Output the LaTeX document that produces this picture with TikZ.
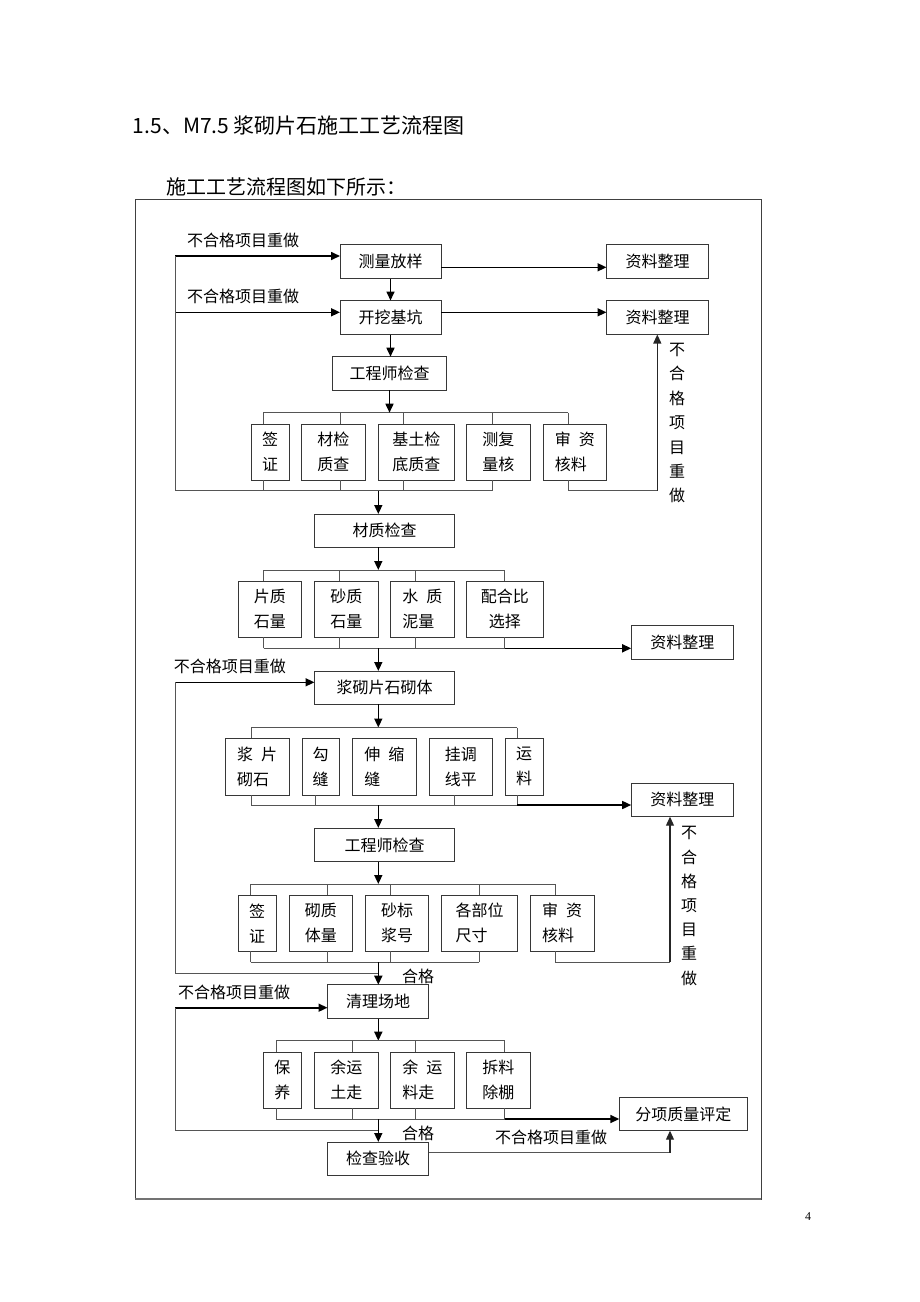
\documentclass[tikz,border=0pt]{standalone}
\usepackage{fontspec}
\setmainfont{Noto Sans CJK SC}
\newfontfamily\numfont{Liberation Serif}
\usetikzlibrary{arrows.meta}
\definecolor{boxc}{RGB}{55,55,55}
\definecolor{linec}{RGB}{85,85,85}
\newcommand\gap{\hspace{0.5em}}
\tikzset{
  box/.style={draw=boxc, line width=1pt, inner sep=0pt, outer sep=0pt, align=left,
    font=\fontsize{16}{25}\selectfont},
  thinl/.style={draw=linec, line width=1pt},
  thickl/.style={draw=black, line width=1.6pt},
  arr/.style={draw=black, line width=1.6pt, -{Triangle[length=9pt,width=8pt]}},
  arrthin/.style={draw=black!85, line width=1.1pt, -{Triangle[length=9pt,width=8pt]}},
  lbl/.style={font=\fontsize{16}{18}\selectfont, inner sep=0pt},
}
\newcommand\bx[6]{\node[box, minimum width={#4-#2}, minimum height={#5-#3}] (#1) at ({(#2+#4)/2},{(#3+#5)/2}) {#6};}
\begin{document}
\begin{tikzpicture}[x=1pt,y=-1pt]
\useasboundingbox (0,0) rectangle (920,1302);
% heading
\node[anchor=west, inner sep=0pt, font=\fontsize{21}{24}\selectfont] (title) at (132.7,125) {1.5、M7.5 浆砌片石施工工艺流程图};
\node[anchor=west, inner sep=0pt, font=\fontsize{20}{24}\selectfont] (sub) at (166.7,187) {施工工艺流程图如下所示：};
\node[inner sep=0pt, font=\numfont\fontsize{12}{14}\selectfont] (pg) at (808,1217) {4};
% frame
\draw[black!75, line width=1pt] (135,199) rectangle (761,1199);
\draw[black!55, line width=2pt] (135,1199) -- (761,1199);

% ---------- boxes ----------
\bx{clfy}{340}{244.5}{441}{278.5}{测量放样}
\bx{zl1}{606.5}{244.5}{708.5}{278.5}{资料整理}
\bx{kwjk}{340}{300.5}{441}{334.5}{开挖基坑}
\bx{zl2}{606.5}{300.5}{708.5}{334.5}{资料整理}
\bx{gcs1}{332.5}{356.7}{446.5}{390.3}{工程师检查}

\bx{a1}{251}{424}{289.3}{480}{签\\证}
\bx{a2}{301.5}{424}{365}{480}{材检\\质查}
\bx{a3}{378.3}{424}{454.3}{480}{基土检\\底质查}
\bx{a4}{466.7}{424}{530}{480}{测复\\量核}
\bx{a5}{543.3}{424}{606.5}{480}{审\gap 资\\核料}

\bx{czjc}{314.5}{514}{454.5}{547.3}{材质检查}
\bx{b1}{238.2}{581}{301.4}{637}{片质\\石量}
\bx{b2}{314.5}{581}{378.2}{637}{砂质\\石量}
\bx{b3}{390.4}{581}{454.5}{637}{水\gap 质\\泥量}
\node[box, align=center, minimum width=76.3, minimum height=56] (b4) at (504.85,609) {配合比\\选择};
\bx{zl3}{631.2}{625.7}{733.3}{659.7}{资料整理}

\bx{jq}{314.5}{671}{454.5}{704.3}{浆砌片石砌体}
\bx{c1}{225}{738.3}{289.3}{795}{浆\gap 片\\砌石}
\bx{c2}{302}{738.3}{339}{795}{勾\\缝}
\bx{c3}{352.5}{738.3}{416}{795}{伸\gap 缩\\缝}
\bx{c4}{429}{738.3}{492.5}{795}{挂调\\线平}
\bx{c5}{505}{738.3}{543.3}{795}{运\\料}
\bx{zl4}{631.2}{783}{733.3}{816.7}{资料整理}

\bx{gcs2}{314.5}{828}{454.5}{861.7}{工程师检查}
\bx{d1}{238.2}{895.3}{276.1}{951.3}{签\\证}
\bx{d2}{289.2}{895.3}{352.4}{951.3}{砌质\\体量}
\bx{d3}{365.5}{895.3}{428.8}{951.3}{砂标\\浆号}
\bx{d4}{441.4}{895.3}{517.8}{951.3}{各部位\\尺寸}
\bx{d5}{530.4}{895.3}{594}{951.3}{审\gap 资\\核料}

\bx{qlcd}{327.5}{984.7}{428.8}{1018.7}{清理场地}
\bx{e1}{263.5}{1052.3}{301.4}{1108}{保\\养}
\bx{e2}{314.5}{1052.3}{378.2}{1108}{余运\\土走}
\bx{e3}{390.4}{1052.3}{454.5}{1108}{余\gap 运\\料走}
\bx{e4}{466.7}{1052.3}{530}{1108}{拆料\\除棚}
\bx{fxzl}{619.3}{1097.3}{747.3}{1130.7}{分项质量评定}
\bx{jcys}{327.5}{1142}{428.8}{1175.7}{检查验收}

% ---------- labels ----------
\node[lbl, anchor=west] (l1) at (187,240) {不合格项目重做};
\node[lbl, anchor=west] (l2) at (187,296.7) {不合格项目重做};
\node[lbl, anchor=west] (l3) at (173.7,666.7) {不合格项目重做};
\node[lbl, anchor=west] (l4) at (177.8,992.3) {不合格项目重做};
\node[lbl] (l5) at (551,1137.3) {不合格项目重做};
\node[lbl] (hg1) at (418,976) {合格};
\node[lbl] (hg2) at (418,1133) {合格};
\node[lbl, align=center, font=\fontsize{16}{24.4}\selectfont] (v1) at (677,423.2) {不\\合\\格\\项\\目\\重\\做};
\node[lbl, align=center, font=\fontsize{16}{24.2}\selectfont] (v2) at (689,905.9) {不\\合\\格\\项\\目\\重\\做};

% ---------- stage 1 ----------
\coordinate (L1a) at (175,256);
\coordinate (L1b) at (175,312.3);
\coordinate (L1c) at (175,490.5);
\coordinate (r1) at (441,267.3);
\coordinate (r2) at (441,312.3);
\draw[arr] (L1a) -- (L1a -| clfy.west);
\draw[arr] (L1b) -- (L1b -| kwjk.west);
\draw[arr] (r1) -- (r1 -| zl1.west);
\draw[arr] (r2) -- (r2 -| zl2.west);
\draw[arr] (clfy.south) -- (kwjk.north);
\draw[arr] (kwjk.south) -- (kwjk.south |- gcs1.north);
\coordinate (a1t) at (263.3,412.7);
\coordinate (a2t) at (340.3,412.7);
\coordinate (a3t) at (403.3,412.7);
\coordinate (a4t) at (492.3,412.7);
\coordinate (a5t) at (568.3,412.7);
\draw[thinl] (a1t) -- (a5t);
\foreach \n in {a1,a2,a3,a4,a5} \draw[thinl] (\n t) -- (\n t |- \n.north);
\draw[arr] (gcs1.south) -- (gcs1.south |- a1t);
\coordinate (a1b) at (263.3,490.5);
\coordinate (a2b) at (340.3,490.5);
\coordinate (a3b) at (403.3,490.5);
\coordinate (a4b) at (492.3,490.5);
\coordinate (a5b) at (568.3,490.5);
\coordinate (ra) at (657.3,490.5);
\foreach \n in {a1,a2,a3,a4} \draw[thinl] (\n b) -- (\n b |- \n.south);
\draw[thinl] (L1a) -- (L1c) -- (a4b);
\draw[thinl] (a5.south -| a5b) -- (a5b) -- (ra);
\draw[arrthin] (ra) -- (ra |- zl2.south);
\coordinate (m1) at (378.3,490.5);
\draw[arr] (m1) -- (m1 |- czjc.north);

% ---------- stage 2 ----------
\coordinate (bt) at (378.3,570);
\draw[arr] (bt |- czjc.south) -- (bt);
\coordinate (b1t) at (263.5,570);
\coordinate (b2t) at (339.8,570);
\coordinate (b3t) at (415.7,570);
\coordinate (b4t) at (504.7,570);
\draw[thinl] (b1t) -- (b4t);
\foreach \n in {b1,b2,b3,b4} \draw[thinl] (\n t) -- (\n t |- \n.north);
\coordinate (b1b) at (263.5,648.3);
\coordinate (b2b) at (339.8,648.3);
\coordinate (b3b) at (415.7,648.3);
\coordinate (b4b) at (504.7,648.3);
\foreach \n in {b1,b2,b3,b4} \draw[thinl] (\n b) -- (\n b |- \n.south);
\draw[thinl] (b1b) -- (b4b);
\draw[arr] (b4b) -- (b4b -| zl3.west);
\coordinate (m2) at (378.3,648.3);
\draw[arr] (m2) -- (m2 |- jq.north);

% ---------- stage 3 ----------
\coordinate (L2a) at (175,682.3);
\coordinate (L2b) at (175,973.7);
\coordinate (L2c) at (378.3,973.7);
\draw[arr] (L2a) -- (L2a -| jq.west);
\draw[thinl] (L2a) -- (L2b) -- (L2c);
\coordinate (ct) at (378.3,727.5);
\coordinate (c1t) at (251,727.5);
\coordinate (c5t) at (517.3,727.5);
\draw[arr] (ct |- jq.south) -- (ct);
\draw[thinl] (c1t) -- (c5t);
\draw[thinl] (c1t) -- (c1t |- c1.north);
\draw[thinl] (c5t) -- (c5t |- c5.north);
\coordinate (c1b) at (251,805);
\coordinate (c2b) at (315,805);
\coordinate (c4b) at (454.3,805);
\coordinate (c5b) at (517.3,805);
\foreach \n in {c1,c2,c4,c5} \draw[thinl] (\n b) -- (\n b |- \n.south);
\draw[thinl] (c1b) -- (c5b);
\draw[arr] (c5b) -- (c5b -| zl4.west);
\coordinate (m3) at (378.3,805);
\draw[arr] (m3) -- (m3 |- gcs2.north);

% ---------- stage 4 ----------
\coordinate (dt) at (378.3,884);
\draw[arr] (dt |- gcs2.south) -- (dt);
\coordinate (d1t) at (250.8,884);
\coordinate (d2t) at (327.5,884);
\coordinate (d3t) at (390.4,884);
\coordinate (d4t) at (479.4,884);
\coordinate (d5t) at (555.7,884);
\draw[thinl] (d1t) -- (d5t);
\foreach \n in {d1,d2,d3,d4,d5} \draw[thinl] (\n t) -- (\n t |- \n.north);
\coordinate (d1b) at (250.8,962.3);
\coordinate (d2b) at (327.5,962.3);
\coordinate (d3b) at (390.4,962.3);
\coordinate (d4b) at (479.4,962.3);
\coordinate (d5b) at (555.7,962.3);
\coordinate (rd) at (670,962.3);
\foreach \n in {d1,d2,d3,d4} \draw[thinl] (\n b) -- (\n b |- \n.south);
\draw[thinl] (d1b) -- (d4b);
\draw[thinl] (d5.south -| d5b) -- (d5b) -- (rd);
\draw[arrthin] (rd) -- (rd |- zl4.south);
\coordinate (m4) at (378.3,962.3);
\draw[arr] (m4) -- (m4 |- qlcd.north);

% ---------- stage 5 ----------
\coordinate (L3a) at (175,1007.7);
\coordinate (L3b) at (175,1130.3);
\coordinate (L3c) at (378.3,1130.3);
\draw[arr] (L3a) -- (L3a -| qlcd.west);
\draw[thinl] (L3a) -- (L3b) -- (L3c);
\coordinate (et) at (378.3,1040.7);
\draw[arr] (et |- qlcd.south) -- (et);
\coordinate (e1t) at (276.1,1040.7);
\coordinate (e2t) at (352.4,1040.7);
\coordinate (e3t) at (415.7,1040.7);
\coordinate (e4t) at (504.7,1040.7);
\draw[thinl] (e1t) -- (e4t);
\foreach \n in {e1,e2,e3,e4} \draw[thinl] (\n t) -- (\n t |- \n.north);
\coordinate (e1b) at (276.1,1119);
\coordinate (e2b) at (352.4,1119);
\coordinate (e3b) at (415.7,1119);
\coordinate (e4b) at (504.7,1119);
\foreach \n in {e1,e2,e3,e4} \draw[thinl] (\n b) -- (\n b |- \n.south);
\draw[thinl] (e1b) -- (e4b);
\draw[arr] (e4b) -- (e4b -| fxzl.west);
\coordinate (m5) at (378.3,1119);
\draw[arr] (m5) -- (m5 |- jcys.north);
\coordinate (jr) at (428.8,1152.7);
\coordinate (jr2) at (670,1152.7);
\draw[thinl] (jr) -- (jr2);
\draw[arrthin] (jr2) -- (jr2 |- fxzl.south);
\end{tikzpicture}
\end{document}
